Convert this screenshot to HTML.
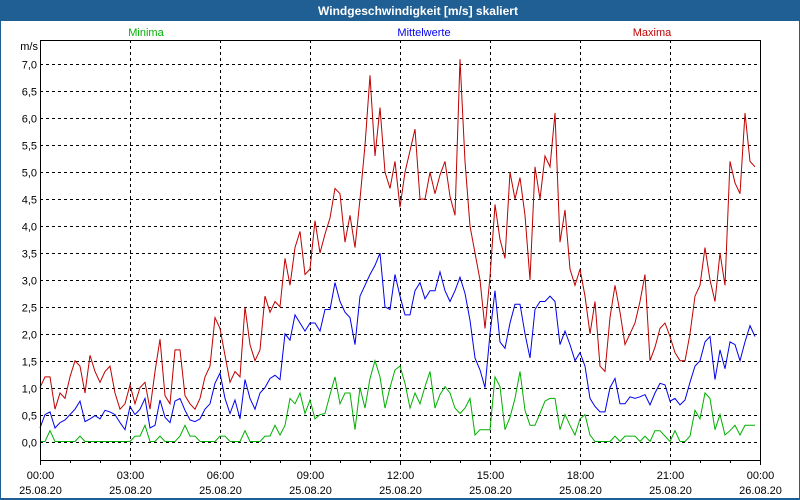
<!DOCTYPE html>
<html><head><meta charset="utf-8"><style>
html,body{margin:0;padding:0;background:#fff}
svg{display:block;font-family:"Liberation Sans",sans-serif}
</style></head><body>
<svg id="chart" width="800" height="500" viewBox="0 0 800 500">
<rect x="0" y="0" width="800" height="500" fill="#1f5f93"/>
<rect x="1" y="21" width="798" height="477" fill="#fff"/>
<text x="418" y="15" fill="#fff" font-size="12" font-weight="bold" text-anchor="middle">Windgeschwindigkeit [m/s] skaliert</text>
<text x="146" y="36" fill="#00b000" font-size="11" text-anchor="middle">Minima</text>
<text x="424" y="36" fill="#0000ee" font-size="11" text-anchor="middle">Mittelwerte</text>
<text x="652" y="36" fill="#c00000" font-size="11" text-anchor="middle">Maxima</text>
<text x="38" y="50" fill="#000" font-size="11" text-anchor="end">m/s</text>
<g id="grid"></g><g id="series"></g><g id="axes"></g>
</svg>
<script>
const yTicks = [0,0.5,1,1.5,2,2.5,3,3.5,4,4.5,5,5.5,6,6.5,7];
const xTickHours = [0,3,6,9,12,15,18,21,24];
const xTickTimes = ["00:00","03:00","06:00","09:00","12:00","15:00","18:00","21:00","00:00"];
const xTickDates = ["25.08.20","25.08.20","25.08.20","25.08.20","25.08.20","25.08.20","25.08.20","25.08.20","26.08.20"];
const maxima = [1.0,1.2,1.2,0.6,0.9,0.8,1.2,1.5,1.4,0.9,1.6,1.3,1.1,1.3,1.4,0.9,0.6,0.7,1.05,0.7,1.0,1.1,0.6,1.3,1.9,0.85,0.7,1.7,1.7,0.85,0.7,0.6,0.8,1.2,1.4,2.3,2.1,1.6,1.1,1.3,1.2,2.5,1.8,1.5,1.7,2.7,2.4,2.6,2.5,
3.4,2.9,3.6,3.9,3.1,3.2,4.1,3.5,3.85,4.15,4.7,4.6,3.7,4.2,3.6,4.5,5.5,6.8,5.3,6.2,5.0,4.7,5.2,4.35,5.0,5.4,5.8,4.5,4.5,5.0,4.6,4.95,5.2,4.55,4.2,7.1,5.2,4.0,3.5,3.0,2.1,3.05,4.4,3.75,3.4,5.0,4.5,
4.9,4.2,3.0,5.1,4.5,5.3,5.1,6.1,3.7,4.3,3.2,2.9,3.2,2.7,2.0,2.6,1.4,1.3,2.3,2.9,2.4,1.8,2.0,2.2,2.6,3.1,1.5,1.75,2.1,2.2,1.95,1.65,1.5,1.5,2.0,2.7,2.9,3.6,3.0,2.6,3.5,2.9,5.2,4.8,4.6,6.1,5.2,5.1];
const mittelwerte = [0.25,0.5,0.55,0.25,0.35,0.4,0.5,0.6,0.75,0.37,0.42,0.48,0.42,0.58,0.55,0.5,0.35,0.22,0.65,0.5,0.6,0.8,0.25,0.3,0.77,0.45,0.35,0.75,0.8,0.58,0.4,0.37,0.42,0.6,0.7,1.08,1.27,0.8,0.52,0.77,0.42,1.15,0.8,0.6,0.9,1.0,1.17,1.23,1.15,
2.0,1.88,2.35,2.2,2.05,2.2,2.2,2.05,2.45,2.45,2.95,2.6,2.4,2.3,1.8,2.7,2.9,3.1,3.27,3.5,2.5,2.45,3.1,2.7,2.35,2.35,2.8,2.95,2.65,2.8,2.8,3.15,2.8,2.6,2.8,3.05,2.75,2.25,1.55,1.33,1.0,2.0,2.8,1.85,1.73,2.2,2.55,
2.55,2.0,1.55,2.45,2.6,2.6,2.7,2.6,1.8,2.05,1.8,1.5,1.65,1.4,0.8,0.65,0.55,0.55,1.0,1.17,0.7,0.7,0.83,0.8,0.83,0.87,0.68,0.9,1.08,1.05,0.75,0.8,0.68,0.77,1.1,1.4,1.5,1.85,1.95,1.15,1.7,1.35,1.85,1.8,1.5,1.85,2.15,1.95];
const minima = [0,0,0.2,0,0,0,0,0,0.1,0,0,0,0,0,0,0,0,0,0,0.1,0.1,0.3,0,0,0.1,0,0,0,0.1,0.3,0.1,0.1,0,0,0,0,0.1,0.1,0,0,0,0.2,0,0,0,0.1,0.1,0.3,0.12,
0.3,0.8,0.7,0.9,0.52,0.77,0.42,0.5,0.52,0.87,1.2,0.7,0.9,0.9,0.22,1.0,0.62,1.17,1.5,1.2,0.62,1.0,1.33,1.4,1.08,0.62,0.9,0.7,1.02,1.3,0.62,0.87,1.02,0.9,0.62,0.52,0.62,0.8,0.12,0.22,0.22,0.22,1.2,1.02,0.22,0.45,0.8,
1.3,0.58,0.3,0.3,0.52,0.75,0.8,0.8,0.22,0.5,0.3,0.12,0.42,0.5,0.12,0,0,0,0,0.1,0,0.1,0.1,0.1,0,0.1,0,0.2,0.2,0.1,0,0.2,0,0,0.1,0.58,0.42,0.9,0.8,0.22,0.5,0.12,0.2,0.3,0.12,0.3,0.3,0.3];

const NS = "http://www.w3.org/2000/svg";
const X0 = 40, X1 = 760, Y_TOP = 40, Y_BOT = 460;
const sx = h => X0 + (X1 - X0) * h / 24;
const sy = v => 441.5 - v * 53.86;
const idxX = i => X0 + 5 * i;
function mk(tag, attrs, parent) { const e = document.createElementNS(NS, tag); for (const k in attrs) e.setAttribute(k, attrs[k]); parent.appendChild(e); return e; }
const grid = document.getElementById('grid'), series = document.getElementById('series'), axes = document.getElementById('axes');

yTicks.forEach(v => {
  const y = Math.round(sy(v)) + 0.5;
  const l = mk('line', {x1: X0, x2: X1, y1: y, y2: y, stroke: '#000', 'stroke-width': 1, 'stroke-dasharray': '3,3'}, grid);
  
  
  const t = mk('text', {x: 37, y: y + 4, 'font-size': 11, 'text-anchor': 'end', fill: '#000'}, axes);
  t.textContent = v.toFixed(1).replace('.', ',');
  
  
});
xTickHours.forEach((h, k) => {
  const x = Math.round(sx(h)) + 0.5;
  if (h > 0 && h < 24) {
    const l = mk('line', {x1: x, x2: x, y1: Y_TOP, y2: Y_BOT, stroke: '#000', 'stroke-width': 1, 'stroke-dasharray': '3,3'}, grid);
    
    
  }
  const t1 = mk('text', {x: x, y: 479, 'font-size': 11, 'text-anchor': 'middle', fill: '#000'}, axes);
  t1.textContent = xTickTimes[k];
  
  
  const t2 = mk('text', {x: x, y: 494, 'font-size': 11, 'text-anchor': 'middle', fill: '#000'}, axes);
  t2.textContent = xTickDates[k];
  
  
});
for (let h = 0; h <= 24; h++) {
  const x = Math.round(sx(h)) + 0.5;
  const tk = mk('line', {x1: x, x2: x, y1: Y_BOT, y2: Y_BOT + (h % 3 === 0 ? 5 : 3), stroke: '#000'}, axes);
  
  
}
const frame = mk('rect', {x: X0 + 0.5, y: Y_TOP + 0.5, width: X1 - X0, height: Y_BOT - Y_TOP, fill: 'none', stroke: '#000'}, axes);



function drawSeries(arr, color, name) {
  const pts = arr.map((v, i) => idxX(i) + ',' + sy(v).toFixed(1)).join(' ');
  const p = mk('polyline', {points: pts, fill: 'none', stroke: color, 'stroke-width': 1}, series);
  
  
}
drawSeries(minima, '#00b000', 'minima-line');
drawSeries(mittelwerte, '#0000ee', 'mittelwerte-line');
drawSeries(maxima, '#c00000', 'maxima-line');
</script>
</body></html>
